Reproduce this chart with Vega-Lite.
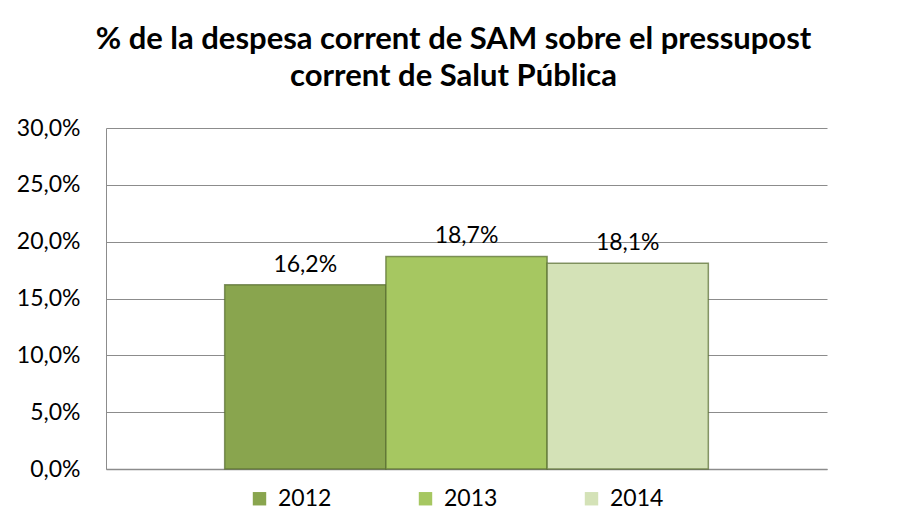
{
  "$schema": "https://vega.github.io/schema/vega-lite/v6.json",
  "width": 721,
  "height": 341,
  "autosize": {"type": "none"},
  "padding": {"left": 106, "top": 128, "right": 80, "bottom": 60},
  "background": "white",
  "title": {
    "text": ["% de la despesa corrent de SAM sobre el pressupost", "corrent de Salut Pública"],
    "font": "Lato",
    "fontSize": 31,
    "fontWeight": "bold",
    "color": "#000000",
    "lineHeight": 37,
    "anchor": "middle",
    "dx": -13,
    "offset": 24
  },
  "data": {
    "values": [
      {"year": "2012", "value": 0.162},
      {"year": "2013", "value": 0.187},
      {"year": "2014", "value": 0.181}
    ]
  },
  "encoding": {
    "x": {
      "field": "year",
      "type": "nominal",
      "scale": {"paddingInner": 0, "paddingOuter": 0.736},
      "axis": {"labels": false, "ticks": false, "title": null, "domainColor": "#8c8c8c", "domainWidth": 1.5}
    },
    "y": {
      "field": "value",
      "type": "quantitative",
      "scale": {"domain": [0, 0.3]},
      "axis": {
        "values": [0, 0.05, 0.1, 0.15, 0.2, 0.25, 0.3],
        "format": ".1%",
        "title": null,
        "ticks": false,
        "tickSize": 0,
        "labelPadding": 26,
        "labelFont": "Lato",
        "labelFontSize": 23,
        "labelColor": "#000000",
        "grid": true,
        "gridColor": "#8c8c8c",
        "gridWidth": 1,
        "domainColor": "#8c8c8c",
        "domainWidth": 1
      }
    }
  },
  "layer": [
    {
      "mark": {"type": "bar", "stroke": "#556b2f", "strokeWidth": 1.5, "strokeOpacity": 0.7},
      "encoding": {
        "color": {
          "field": "year",
          "type": "nominal",
          "scale": {"range": ["#89A54E", "#A6C761", "#D4E2B7"]},
          "legend": {
            "title": null,
            "orient": "none",
            "direction": "horizontal",
            "legendX": 142,
            "legendY": 359,
            "symbolType": "square",
            "symbolSize": 180,
            "symbolStrokeWidth": 0,
            "labelFont": "Lato",
            "labelFontSize": 23,
            "labelColor": "#000000",
            "columnPadding": 82,
            "labelOffset": 7
          }
        }
      }
    },
    {
      "mark": {"type": "text", "baseline": "alphabetic", "dy": -13, "font": "Lato", "fontSize": 23, "color": "#000000"},
      "encoding": {
        "text": {"field": "value", "type": "quantitative", "format": ".1%"}
      }
    }
  ],
  "config": {
    "view": {"stroke": null},
    "locale": {
      "number": {"decimal": ",", "thousands": ".", "grouping": [3], "currency": ["", " €"]}
    }
  }
}
